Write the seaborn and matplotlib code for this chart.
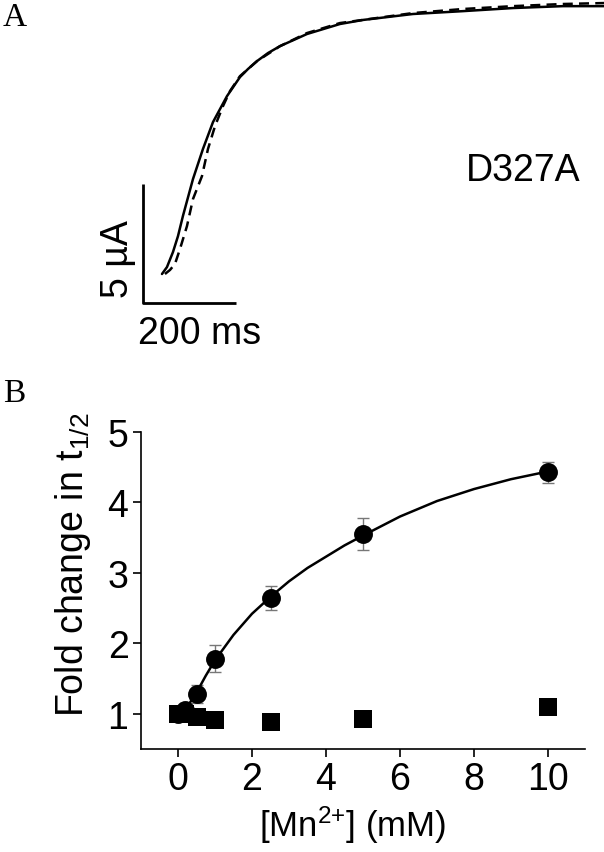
import matplotlib
matplotlib.use("Agg")
import matplotlib.pyplot as plt
import seaborn as sns

# Painel A: correntes (ms, uA)
t_solid = [40.9, 51.6, 64.5, 75.3, 86.0, 107.6, 129.0, 150.6, 180.7, 208.6, 225.9,
           245.2, 268.9, 294.7, 352.8, 423.7, 473.2, 580.8, 688.3, 795.9, 903.4, 991.6]
i_solid = [1.22, 1.51, 2.14, 2.81, 3.66, 5.21, 6.47, 7.60, 8.69, 9.49, 9.83,
           10.16, 10.50, 10.79, 11.30, 11.72, 11.89, 12.14, 12.26, 12.39, 12.47, 12.47]
t_dash = [47.3, 58.1, 68.8, 79.6, 94.6, 107.6, 126.9, 139.8, 154.9, 172.1,
          187.1, 208.6, 245.2, 294.7, 352.8, 423.7, 580.8, 688.3, 795.9, 903.4, 991.6]
i_dash = [1.22, 1.39, 1.64, 2.27, 3.23, 4.37, 5.33, 6.47, 7.43, 8.27,
          8.90, 9.53, 10.16, 10.79, 11.34, 11.76, 12.18, 12.35, 12.47, 12.56, 12.60]

# Painel B: fold change em t1/2
mn = [0, 0.2, 0.5, 1, 2.5, 5, 10]
fold_circ = [1.00, 1.06, 1.28, 1.78, 2.65, 3.55, 4.43]
err_circ = [0.03, 0.04, 0.13, 0.19, 0.17, 0.23, 0.15]
fold_sq = [1.00, 1.00, 0.96, 0.91, 0.88, 0.93, 1.10]
fit_x = [0.2, 0.5, 0.75, 1, 1.5, 2, 2.5, 3, 3.5, 4, 4.5, 5, 6, 7, 8, 9, 10]
fit_y = [1.06, 1.30, 1.54, 1.76, 2.12, 2.42, 2.66, 2.88, 3.07, 3.23, 3.39, 3.53,
         3.80, 4.02, 4.19, 4.33, 4.44]

sns.set_theme(style="white")
plt.rcParams['font.family'] = ['Liberation Sans', 'DejaVu Sans']
plt.rcParams['mathtext.fontset'] = 'custom'
plt.rcParams['mathtext.rm'] = 'Liberation Sans'
plt.rcParams['mathtext.it'] = 'Liberation Sans:italic'
for k in ['text.color', 'axes.labelcolor', 'xtick.color', 'ytick.color']:
    plt.rcParams[k] = 'black'

fig = plt.figure(figsize=(6.04, 8.53), dpi=100)

# ---------- Painel A ----------
axA = fig.add_axes([0, (853 - 350) / 853, 1, 350 / 853])
sns.lineplot(x=t_solid, y=i_solid, ax=axA, color='black', lw=1.8, sort=False)
sns.lineplot(x=t_dash, y=i_dash, ax=axA, color='black', lw=1.8, sort=False,
             linestyle=(0, (4, 2.5)))
# barras de escala 200 ms / 5 uA
axA.plot([0, 0, 200], [5, 0, 0], color='black', lw=2.0, solid_capstyle='butt')
axA.text(-54, 1.9, "5 µA", rotation=90, ha='center', va='center', fontsize=27)
axA.text(122, -1.25, "200 ms", ha='center', va='center', fontsize=27)
axA.text(818, 5.6, "D327A", ha='center', va='center', fontsize=27)
axA.set_xlim(-307.5, 991.6)
axA.set_ylim(-1.93, 12.77)
axA.axis('off')

# ---------- Painel B ----------
axB = fig.add_axes([141 / 604, (853 - 750) / 853, 444 / 604, 317 / 853])
axB.errorbar(mn, fold_circ, yerr=err_circ, fmt='none', ecolor='#777777',
             elinewidth=1.0, capsize=4.5, capthick=1.0, zorder=2)
sns.lineplot(x=fit_x, y=fit_y, ax=axB, color='black', lw=1.8, zorder=3)
sns.scatterplot(x=mn, y=fold_sq, ax=axB, marker='s', s=150, color='black',
                edgecolor='black', linewidth=0, zorder=4)
sns.scatterplot(x=mn, y=fold_circ, ax=axB, marker='o', s=185, color='black',
                edgecolor='black', linewidth=0, zorder=5)
axB.set_xlim(-1, 11)
axB.set_ylim(0.5, 5)
axB.set_xticks([0, 2, 4, 6, 8, 10])
axB.set_yticks([1, 2, 3, 4, 5])
sns.despine(ax=axB)
for s in ['left', 'bottom']:
    axB.spines[s].set_color('black')
    axB.spines[s].set_linewidth(1.2)
axB.tick_params(axis='both', direction='out', length=6, width=1.2, color='black',
                labelsize=27, pad=3, left=True, bottom=True)
axB.set_xlabel(r"[Mn$^{2{+}}$] (mM)", fontsize=25)
axB.set_ylabel(r"Fold change in t$_{1/2}$", fontsize=27)
axB.xaxis.set_label_coords(0.477, -0.172)
axB.xaxis.label.set_va('top')
axB.yaxis.set_label_coords(-0.108, 0.585)

fig.text(3 / 604, 1 - 3 / 853, "A", family='Liberation Serif', fontsize=24,
         ha='left', va='top')
fig.text(3 / 604, 1 - 379 / 853, "B", family='Liberation Serif', fontsize=24,
         ha='left', va='top')

fig.savefig("out.png", dpi=100)
